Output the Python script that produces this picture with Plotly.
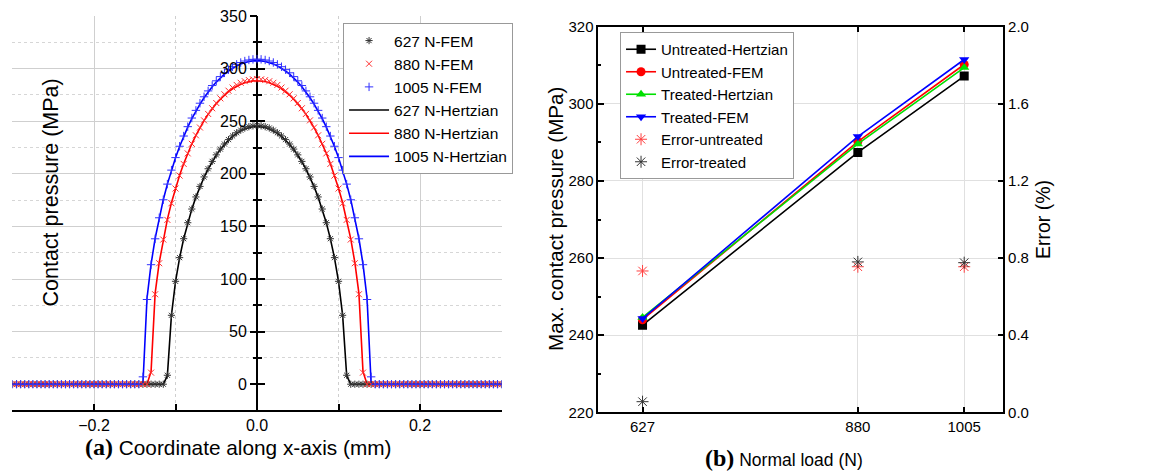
import plotly.graph_objects as go

# ---------------- Panel (a) data ----------------
x_grid = [
    -0.300, -0.295, -0.290, -0.285, -0.280, -0.275, -0.270, -0.265, -0.260, -0.255,
    -0.250, -0.245, -0.240, -0.235, -0.230, -0.225, -0.220, -0.215, -0.210, -0.205,
    -0.200, -0.195, -0.190, -0.185, -0.180, -0.175, -0.170, -0.165, -0.160, -0.155,
    -0.150, -0.145, -0.140, -0.135, -0.130, -0.125, -0.120, -0.115, -0.110, -0.105,
    -0.100, -0.095, -0.090, -0.085, -0.080, -0.075, -0.070, -0.065, -0.060, -0.055,
    -0.050, -0.045, -0.040, -0.035, -0.030, -0.025, -0.020, -0.015, -0.010, -0.005,
    0.000,
    0.005, 0.010, 0.015, 0.020, 0.025, 0.030, 0.035, 0.040, 0.045, 0.050,
    0.055, 0.060, 0.065, 0.070, 0.075, 0.080, 0.085, 0.090, 0.095, 0.100,
    0.105, 0.110, 0.115, 0.120, 0.125, 0.130, 0.135, 0.140, 0.145, 0.150,
    0.155, 0.160, 0.165, 0.170, 0.175, 0.180, 0.185, 0.190, 0.195, 0.200,
    0.205, 0.210, 0.215, 0.220, 0.225, 0.230, 0.235, 0.240, 0.245, 0.250,
    0.255, 0.260, 0.265, 0.270, 0.275, 0.280, 0.285, 0.290, 0.295, 0.300,
]

fem_627 = [
    0, 0, 0, 0, 0, 0, 0, 0, 0, 0,
    0, 0, 0, 0, 0, 0, 0, 0, 0, 0,
    0, 0, 0, 0, 0, 0, 0, 0, 0, 0,
    0, 0, 0, 0, 0, 0, 0,
    0, 8.5, 65.5, 97.8, 120.3, 138.3, 153.5, 166.5, 178, 188,
    197, 204.8, 211.8, 218, 223.5, 228.3, 232.5, 236, 239, 241.5,
    243.5, 244.8, 245.6, 246, 245.6, 244.8, 243.5,
    241.5, 239, 236, 232.5, 228.3, 223.5, 218, 211.8, 204.8, 197,
    188, 178, 166.5, 153.5, 138.3, 120.3, 97.8, 65.5, 8.5, 0,
    0, 0, 0, 0, 0, 0, 0, 0, 0, 0,
    0, 0, 0, 0, 0, 0, 0, 0, 0, 0,
    0, 0, 0, 0, 0, 0, 0, 0, 0, 0,
    0, 0, 0, 0, 0, 0, 0,
]
hertz_627 = [
    0, 0, 0, 0, 0, 0, 0, 0, 0, 0,
    0, 0, 0, 0, 0, 0, 0, 0, 0, 0,
    0, 0, 0, 0, 0, 0, 0, 0, 0, 0,
    0, 0, 0, 0, 0, 0, 0,
    0, 8, 65.7, 97.5, 120.1, 138.2, 153.4, 166.4, 177.8, 187.8,
    196.7, 204.5, 211.5, 217.7, 223.2, 227.9, 232.0, 235.5, 238.5, 240.8,
    242.7, 244.0, 244.7, 245, 244.7, 244.0, 242.7,
    240.8, 238.5, 235.5, 232.0, 227.9, 223.2, 217.7, 211.5, 204.5, 196.7,
    187.8, 177.8, 166.4, 153.4, 138.2, 120.1, 97.5, 65.7, 8, 0,
    0, 0, 0, 0, 0, 0, 0, 0, 0, 0,
    0, 0, 0, 0, 0, 0, 0, 0, 0, 0,
    0, 0, 0, 0, 0, 0, 0, 0, 0, 0,
    0, 0, 0, 0, 0, 0, 0,
]
fem_880 = [
    0, 0, 0, 0, 0, 0, 0, 0, 0, 0,
    0, 0, 0, 0, 0, 0, 0, 0, 0, 0,
    0, 0, 0, 0, 0, 0, 0, 0, 0, 0,
    0, 0, 0,
    0, 11, 85.5, 115, 137.5, 156.2, 172, 186, 198.3, 209.4,
    219.4, 228.5, 236.6, 244, 250.8, 256.9, 262.3, 267.3, 271.7, 275.6,
    279, 282, 284.5, 286.5, 288, 289.1, 289.8,
    290,
    289.8, 289.1, 288, 286.5, 284.5, 282, 279, 275.6, 271.7, 267.3,
    262.3, 256.9, 250.8, 244, 236.6, 228.5, 219.4, 209.4, 198.3, 186,
    172, 156.2, 137.5, 115, 85.5, 11, 0,
    0, 0, 0, 0, 0, 0, 0, 0, 0, 0,
    0, 0, 0, 0, 0, 0, 0, 0, 0, 0,
    0, 0, 0, 0, 0, 0, 0, 0, 0, 0,
    0, 0, 0,
]
hertz_880 = [
    0, 0, 0, 0, 0, 0, 0, 0, 0, 0,
    0, 0, 0, 0, 0, 0, 0, 0, 0, 0,
    0, 0, 0, 0, 0, 0, 0, 0, 0, 0,
    0, 0, 0,
    0, 12, 86.3, 115.7, 138.1, 156.7, 172.5, 186.3, 198.6, 209.6,
    219.5, 228.5, 236.5, 243.8, 250.5, 256.5, 261.8, 266.7, 270.9, 274.7,
    278.0, 280.8, 283.2, 285.1, 286.6, 287.7, 288.3,
    288.5,
    288.3, 287.7, 286.6, 285.1, 283.2, 280.8, 278.0, 274.7, 270.9, 266.7,
    261.8, 256.5, 250.5, 243.8, 236.5, 228.5, 219.5, 209.6, 198.6, 186.3,
    172.5, 156.7, 138.1, 115.7, 86.3, 12, 0,
    0, 0, 0, 0, 0, 0, 0, 0, 0, 0,
    0, 0, 0, 0, 0, 0, 0, 0, 0, 0,
    0, 0, 0, 0, 0, 0, 0, 0, 0, 0,
    0, 0, 0,
]
fem_1005 = [
    0, 0, 0, 0, 0, 0, 0, 0, 0, 0,
    0, 0, 0, 0, 0, 0, 0, 0, 0, 0,
    0, 0, 0, 0, 0, 0, 0, 0, 0, 0,
    0,
    0, 7, 80.5, 113.6, 138.2, 158.2, 175.3, 190.2, 203.5, 215.4,
    226.2, 235.9, 244.8, 253, 260.3, 267.1, 273.2, 278.8, 283.9, 288.4,
    292.4, 296, 299, 301.8, 304, 305.8, 307.2, 308.2, 308.8,
    309,
    308.8, 308.2, 307.2, 305.8, 304, 301.8, 299, 296, 292.4, 288.4,
    283.9, 278.8, 273.2, 267.1, 260.3, 253, 244.8, 235.9, 226.2, 215.4,
    203.5, 190.2, 175.3, 158.2, 138.2, 113.6, 80.5, 7, 0,
    0, 0, 0, 0, 0, 0, 0, 0, 0, 0,
    0, 0, 0, 0, 0, 0, 0, 0, 0, 0,
    0, 0, 0, 0, 0, 0, 0, 0, 0, 0,
    0,
]
hertz_1005 = [
    0, 0, 0, 0, 0, 0, 0, 0, 0, 0,
    0, 0, 0, 0, 0, 0, 0, 0, 0, 0,
    0, 0, 0, 0, 0, 0, 0, 0, 0, 0,
    0,
    0, 0, 81.5, 114.1, 138.5, 158.4, 175.4, 190.2, 203.4, 215.2,
    225.9, 235.5, 244.3, 252.4, 259.6, 266.3, 272.3, 277.8, 282.8, 287.2,
    291.2, 294.7, 297.7, 300.4, 302.6, 304.3, 305.7, 306.7, 307.3,
    307.5,
    307.3, 306.7, 305.7, 304.3, 302.6, 300.4, 297.7, 294.7, 291.2, 287.2,
    282.8, 277.8, 272.3, 266.3, 259.6, 252.4, 244.3, 235.5, 225.9, 215.2,
    203.4, 190.2, 175.4, 158.4, 138.5, 114.1, 81.5, 0, 0,
    0, 0, 0, 0, 0, 0, 0, 0, 0, 0,
    0, 0, 0, 0, 0, 0, 0, 0, 0, 0,
    0, 0, 0, 0, 0, 0, 0, 0, 0, 0,
    0,
]
for arr in (fem_627, hertz_627, fem_880, hertz_880, fem_1005, hertz_1005):
    assert len(arr) == len(x_grid), len(arr)

a_y_major = [0, 50, 100, 150, 200, 250, 300, 350]
a_y_minor = [25, 75, 125, 175, 225, 275, 325]
a_grid_major = [50, 100, 150, 200, 250, 300]
a_x_ticks = [-0.2, 0.0, 0.2]
a_x_minor = [-0.3, -0.1, 0.1, 0.3]

# ---------------- Panel (b) data ----------------
loads = [627, 880, 1005]
untreated_hertzian = [242.6, 287.4, 307.2]
untreated_fem = [244.0, 290.2, 310.2]
treated_hertzian = [244.6, 289.6, 309.4]
treated_fem = [244.3, 291.5, 311.5]
error_untreated = [0.733, 0.755, 0.755]
error_treated = [0.055, 0.78, 0.776]

SANS = "Liberation Sans, Arial, sans-serif"
SERIF_SPAN = "<span style='font-family:Liberation Serif, Times New Roman, serif; font-size:24px'><b>{}</b></span>"

fig = go.Figure()

# Panel (a): Hertzian lines first (under), FEM markers on top
for ys, col, name, rank in [
    (hertz_627, "#000000", "627 N-Hertzian", 4),
    (hertz_880, "#ff0000", "880 N-Hertzian", 5),
    (hertz_1005, "#0000ff", "1005 N-Hertzian", 6),
]:
    fig.add_trace(go.Scatter(x=x_grid, y=ys, mode="lines", name=name,
                             line=dict(color=col, width=1.6),
                             xaxis="x", yaxis="y", legend="legend", legendrank=rank))

for ys, col, sym, name, rank in [
    (fem_627, "#333333", "asterisk-open", "627 N-FEM", 1),
    (fem_880, "#ff3030", "x-thin-open", "880 N-FEM", 2),
    (fem_1005, "#3030ff", "cross-thin-open", "1005 N-FEM", 3),
]:
    fig.add_trace(go.Scatter(x=x_grid, y=ys, mode="markers", name=name,
                             marker=dict(symbol=sym, size=6, color=col, line=dict(width=1, color=col)),
                             xaxis="x", yaxis="y", legend="legend", legendrank=rank))

# empty traces so the overlay axes of panel (a) are drawn
for ya in ("y5", "y6"):
    fig.add_trace(go.Scatter(x=[None], y=[None], xaxis="x", yaxis=ya,
                             showlegend=False, hoverinfo="skip"))

# Panel (b)
for ys, col, sym, name in [
    (untreated_hertzian, "#000000", "square", "Untreated-Hertzian"),
    (untreated_fem, "#ff0000", "circle", "Untreated-FEM"),
    (treated_hertzian, "#00e000", "triangle-up", "Treated-Hertzian"),
    (treated_fem, "#0000ff", "triangle-down", "Treated-FEM"),
]:
    fig.add_trace(go.Scatter(x=loads, y=ys, mode="lines+markers", name=name,
                             line=dict(color=col, width=1.6),
                             marker=dict(symbol=sym, size=9, color=col),
                             xaxis="x2", yaxis="y2", legend="legend2"))

for ys, col, name in [
    (error_untreated, "#ff4040", "Error-untreated"),
    (error_treated, "#333333", "Error-treated"),
]:
    fig.add_trace(go.Scatter(x=loads, y=ys, mode="markers", name=name,
                             marker=dict(symbol="asterisk-open", size=10, color=col,
                                         line=dict(width=1, color=col)),
                             xaxis="x2", yaxis="y3", legend="legend2"))

AX_DOM = [0.0108, 0.4335]
A_YDOM = [0.1303, 0.9661]
B_XDOM = [0.5171, 0.8672]
B_YDOM = [0.1265, 0.9434]
YPOS = AX_DOM[0] + (AX_DOM[1] - AX_DOM[0]) * 0.5

fig.update_layout(
    width=1157, height=472,
    margin=dict(l=0, r=0, t=0, b=0, pad=0, autoexpand=False),
    paper_bgcolor="white", plot_bgcolor="white",
    font=dict(family=SANS, size=16, color="black"),
    showlegend=True,
    xaxis=dict(
        domain=AX_DOM, range=[-0.3, 0.3], anchor="y", automargin=False,
        showline=True, linecolor="black", linewidth=1.5,
        ticks="inside", ticklen=7, tickwidth=1.5, tickcolor="black",
        tickvals=a_x_ticks, tickformat=".1f", tickfont=dict(family=SANS, size=16),
        showgrid=True, gridcolor="#cfcfcf", gridwidth=1,
        minor=dict(tickvals=a_x_minor, ticks="inside", ticklen=7,
                   tickwidth=1.5, tickcolor="black",
                   showgrid=True, gridcolor="#cfcfcf", griddash="dot", gridwidth=1),
        zeroline=True, zerolinecolor="black", zerolinewidth=1.5,
    ),
    yaxis=dict(
        domain=A_YDOM, range=[-25, 350], anchor="free", position=YPOS, automargin=False,
        showline=False, showgrid=False, zeroline=False,
        ticks="outside", ticklen=7, tickwidth=1.5, tickcolor="black",
        tickvals=a_y_major, tickfont=dict(family=SANS, size=16),
        minor=dict(tickvals=a_y_minor, ticks="outside", ticklen=4, tickwidth=1.5,
                   tickcolor="black", showgrid=False),
    ),
    yaxis5=dict(
        overlaying="y", range=[-25, 350], anchor="free", position=YPOS, automargin=False,
        showline=False, showgrid=False, zeroline=False, showticklabels=False,
        ticks="inside", ticklen=7, tickwidth=1.5, tickcolor="black",
        tickvals=a_y_major,
        minor=dict(tickvals=a_y_minor, ticks="inside", ticklen=4, tickwidth=1.5,
                   tickcolor="black", showgrid=False),
    ),
    yaxis6=dict(
        overlaying="y", range=[-25, 350], anchor="x", automargin=False,
        showline=False, zeroline=False, showticklabels=False, ticks="",
        tickvals=a_grid_major, showgrid=True, gridcolor="#cfcfcf", gridwidth=1,
        minor=dict(tickvals=a_y_minor, ticks="", showgrid=True,
                   gridcolor="#d6d6d6", griddash="dot", gridwidth=1),
    ),
    xaxis2=dict(
        domain=B_XDOM, range=[575, 1051], anchor="y2", automargin=False,
        showline=True, linecolor="black", linewidth=1.5, mirror="ticks",
        ticks="inside", ticklen=6, tickwidth=1.5, tickcolor="black",
        tickvals=loads, tickfont=dict(family=SANS, size=15),
        showgrid=True, gridcolor="#e0e0e0", gridwidth=1, zeroline=False,
    ),
    yaxis2=dict(
        domain=B_YDOM, range=[220, 320], anchor="x2", automargin=False,
        showline=True, linecolor="black", linewidth=1.5,
        ticks="inside", ticklen=6, tickwidth=1.5, tickcolor="black",
        dtick=20, tick0=220, tickfont=dict(family=SANS, size=15),
        minor=dict(dtick=10, ticks="inside", ticklen=3, tickwidth=1.5, tickcolor="black"),
        showgrid=True, gridcolor="#e0e0e0", gridwidth=1, zeroline=False,
    ),
    yaxis3=dict(
        overlaying="y2", side="right", anchor="x2", range=[0, 2.0], automargin=False,
        showline=True, linecolor="black", linewidth=1.5,
        ticks="inside", ticklen=6, tickwidth=1.5, tickcolor="black",
        dtick=0.4, tick0=0, tickformat=".1f", tickfont=dict(family=SANS, size=15),
        showgrid=False, zeroline=False,
    ),
    legend=dict(
        x=0.2965, y=1 - 23 / 472, xanchor="left", yanchor="top",
        bgcolor="white", bordercolor="#999999", borderwidth=1,
        font=dict(family=SANS, size=15.5), traceorder="normal",
        tracegroupgap=0, itemwidth=40,
    ),
    legend2=dict(
        x=0.5359, y=1 - 32 / 472, xanchor="left", yanchor="top",
        bgcolor="white", bordercolor="#999999", borderwidth=1,
        font=dict(family=SANS, size=15), traceorder="normal",
        tracegroupgap=0, itemwidth=30,
    ),
    annotations=[
        dict(text=SERIF_SPAN.format("(a)") + " Coordinate along x-axis (mm)",
             x=238 / 1157, y=1 - 447 / 472, xref="paper", yref="paper",
             xanchor="center", yanchor="middle", showarrow=False,
             font=dict(family=SANS, size=20.8)),
        dict(text="Contact pressure (MPa)", textangle=-90,
             x=50 / 1157, y=1 - 192.5 / 472, xref="paper", yref="paper",
             xanchor="center", yanchor="middle", showarrow=False,
             font=dict(family=SANS, size=21.5)),
        dict(text=SERIF_SPAN.format("(b)") + " Normal load (N)",
             x=783.7 / 1157, y=1 - 458 / 472, xref="paper", yref="paper",
             xanchor="center", yanchor="middle", showarrow=False,
             font=dict(family=SANS, size=17.5)),
        dict(text="Max. contact pressure (MPa)", textangle=-90,
             x=555 / 1157, y=1 - 219 / 472, xref="paper", yref="paper",
             xanchor="center", yanchor="middle", showarrow=False,
             font=dict(family=SANS, size=20.6)),
        dict(text="Error (%)", textangle=-90,
             x=1043 / 1157, y=1 - 220 / 472, xref="paper", yref="paper",
             xanchor="center", yanchor="middle", showarrow=False,
             font=dict(family=SANS, size=19.5)),
    ],
)

fig.write_html("out.html",
               config={"displayModeBar": False},
               post_script="document.body.style.margin='0';document.body.style.overflow='hidden';")
